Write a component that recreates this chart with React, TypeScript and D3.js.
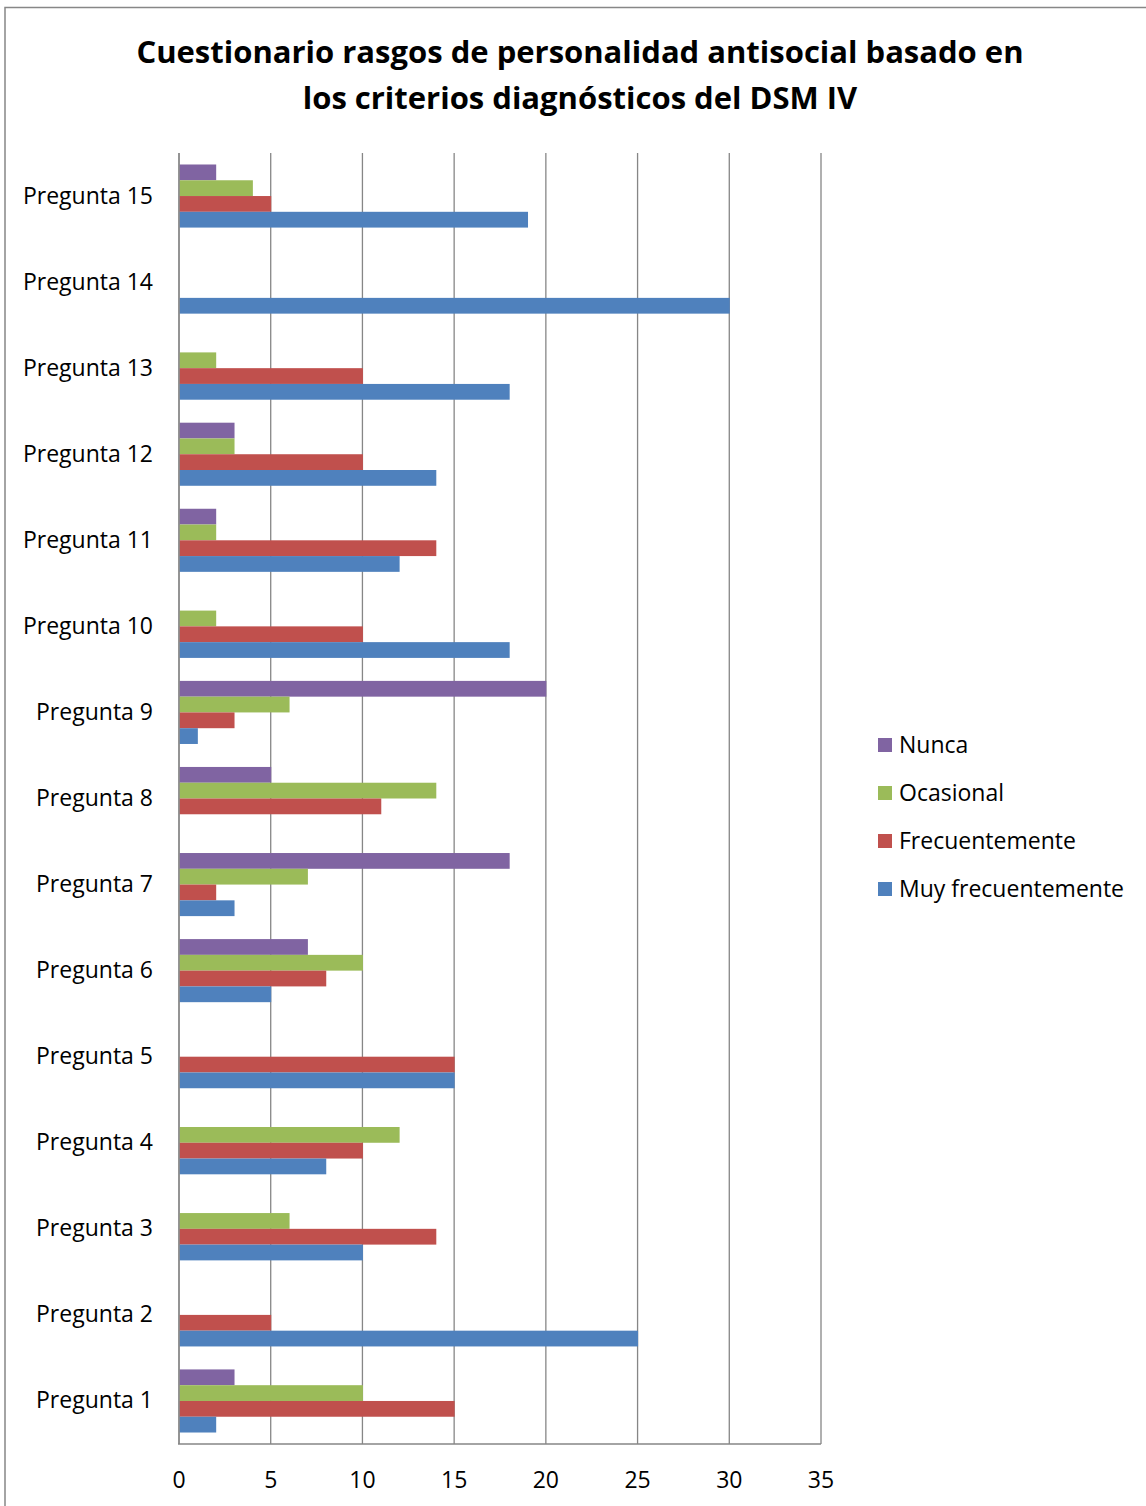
import React from "react";
import * as d3 from "d3";

const categories = [
  "Pregunta 1", "Pregunta 2", "Pregunta 3", "Pregunta 4", "Pregunta 5",
  "Pregunta 6", "Pregunta 7", "Pregunta 8", "Pregunta 9", "Pregunta 10",
  "Pregunta 11", "Pregunta 12", "Pregunta 13", "Pregunta 14", "Pregunta 15",
];

const seriesNames = ["Nunca", "Ocasional", "Frecuentemente", "Muy frecuentemente"];
const seriesColors = ["#8064A2", "#9BBB59", "#C0504D", "#4F81BD"];

// values per question, Pregunta 1 .. Pregunta 15
const nunca = [3, 0, 0, 0, 0, 7, 18, 5, 20, 0, 2, 3, 0, 0, 2];
const ocasional = [10, 0, 6, 12, 0, 10, 7, 14, 6, 2, 2, 3, 2, 0, 4];
const frecuentemente = [15, 5, 14, 10, 15, 8, 2, 11, 3, 10, 14, 10, 10, 0, 5];
const muyFrecuentemente = [2, 25, 10, 8, 15, 5, 3, 0, 1, 18, 12, 14, 18, 30, 19];

const seriesValues = [nunca, ocasional, frecuentemente, muyFrecuentemente];
const xTicks = [0, 5, 10, 15, 20, 25, 30, 35];

const titleLines = [
  "Cuestionario rasgos de personalidad antisocial basado en",
  "los criterios diagnósticos del DSM IV",
];

const W = 1146;
const H = 1506;
const plot = { left: 179, right: 821, top: 153, bottom: 1444 };
const FONT = "'Open Sans', sans-serif";
const LABEL_SIZE = 23;

export default function App() {
  const x = d3.scaleLinear().domain([0, 35]).range([plot.left, plot.right]);
  // Pregunta 15 sits at the top
  const y = d3
    .scaleBand<string>()
    .domain([...categories].reverse())
    .range([plot.top, plot.bottom])
    .paddingInner(0.267)
    .paddingOuter(0.1335);
  const sub = d3
    .scaleBand<string>()
    .domain(seriesNames)
    .range([0, y.bandwidth()]);

  return (
    <svg
      width={W}
      height={H}
      style={{ position: "absolute", left: 0, top: 0, background: "#fff" }}
      fontFamily={FONT}
    >
      <rect x={5} y={7.5} width={W + 10} height={H + 10} fill="#fff" stroke="#878787" strokeWidth={1.5} />

      {titleLines.map((t, i) => (
        <text
          key={i}
          x={580}
          y={63 + i * 46}
          textAnchor="middle"
          fontSize={31}
          fontWeight="bold"
          fill="#000"
        >
          {t}
        </text>
      ))}

      {/* vertical gridlines */}
      {xTicks.map((t) => (
        <line
          key={t}
          x1={x(t)}
          x2={x(t)}
          y1={plot.top}
          y2={plot.bottom}
          stroke="#868686"
          strokeWidth={1.3}
        />
      ))}
      <line x1={plot.left - 1} x2={plot.right} y1={plot.bottom} y2={plot.bottom} stroke="#868686" strokeWidth={1.3} />

      {/* bars */}
      {categories.map((c, ci) => (
        <g key={c} transform={`translate(0,${y(c)})`}>
          {seriesNames.map((s, si) => {
            const v = seriesValues[si][ci];
            if (!v) return null;
            return (
              <rect
                key={s}
                x={x(0) + 0.5}
                y={sub(s)}
                width={x(v) - x(0)}
                height={sub.bandwidth()}
                fill={seriesColors[si]}
              />
            );
          })}
        </g>
      ))}
      <line x1={plot.left} x2={plot.left} y1={plot.top} y2={plot.bottom} stroke="#868686" strokeWidth={1.3} />

      {/* category labels */}
      {categories.map((c) => (
        <text
          key={c}
          x={153}
          y={(y(c) ?? 0) + y.bandwidth() / 2 + 7.5}
          textAnchor="end"
          fontSize={LABEL_SIZE}
          fill="#000"
        >
          {c}
        </text>
      ))}

      {/* value axis labels */}
      {xTicks.map((t) => (
        <text key={t} x={x(t)} y={1488} textAnchor="middle" fontSize={LABEL_SIZE} fill="#000">
          {t}
        </text>
      ))}

      {/* legend */}
      {seriesNames.map((s, i) => (
        <g key={s} transform={`translate(878,${745 + i * 48})`}>
          <rect x={0} y={-7} width={14} height={14} fill={seriesColors[i]} />
          <text x={21} y={8} fontSize={LABEL_SIZE} fill="#000">
            {s}
          </text>
        </g>
      ))}
    </svg>
  );
}
